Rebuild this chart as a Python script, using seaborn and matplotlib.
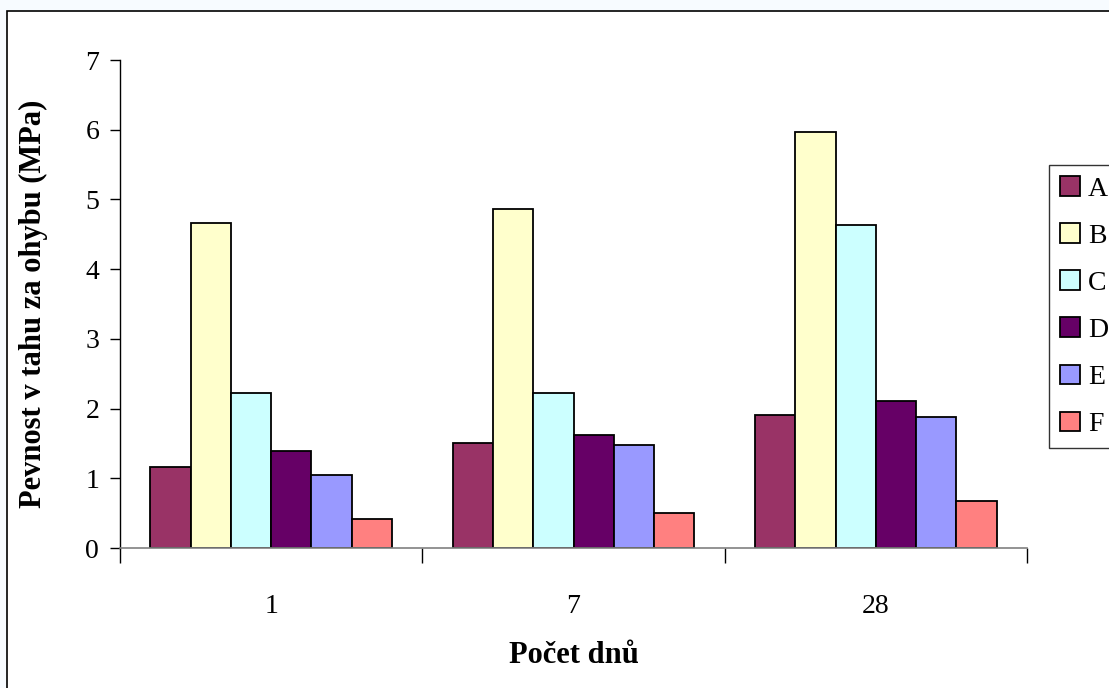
import matplotlib
matplotlib.use("Agg")
import matplotlib.pyplot as plt
from matplotlib.patches import Rectangle, Patch
import seaborn as sns
import pandas as pd

# Flexural tensile strength after 1, 7 and 28 days for mixtures A-F
days = ["1", "7", "28"]
mixtures = ["A", "B", "C", "D", "E", "F"]
values_A = [1.16, 1.51, 1.91]
values_B = [4.66, 4.86, 5.97]
values_C = [2.22, 2.22, 4.63]
values_D = [1.39, 1.62, 2.11]
values_E = [1.05, 1.48, 1.88]
values_F = [0.42, 0.50, 0.67]
yticks = [0, 1, 2, 3, 4, 5, 6, 7]

colors = ["#993366", "#FFFFCC", "#CCFFFF", "#660066", "#9999FF", "#FF8080"]

series = [values_A, values_B, values_C, values_D, values_E, values_F]
df = pd.DataFrame(
    [(d, m, v) for m, vals in zip(mixtures, series) for d, v in zip(days, vals)],
    columns=["den", "směs", "pevnost"],
)

sns.set_style("white")
plt.rcParams["font.family"] = ["Liberation Serif", "DejaVu Serif"]
plt.rcParams.update({"text.color": "black", "axes.labelcolor": "black",
                     "xtick.color": "black", "ytick.color": "black"})

W, H = 1109, 688
fig = plt.figure(figsize=(W / 100, H / 100), dpi=100, facecolor="#f7fbff")

# white chart area with a thin black frame
fig.patches.append(Rectangle((7 / W, -0.05), 1.2, 1 - 11 / H + 0.05,
                             transform=fig.transFigure, facecolor="white",
                             edgecolor="black", linewidth=1.2, zorder=-10))

ax = fig.add_axes([120 / W, 1 - 548 / H, (1027 - 120) / W, (548 - 60) / H])
ax.set_facecolor("none")

sns.barplot(data=df, x="den", y="pevnost", hue="směs", order=days,
            hue_order=mixtures, palette=colors, width=0.8, gap=0,
            edgecolor="black", linewidth=1.3, saturation=1, ax=ax,
            legend=False, errorbar=None)

ax.set_ylim(0, 7)
ax.set_yticks(yticks)
ax.set_xlim(-0.5, len(days) - 0.5)

# category labels centred, tick marks on category boundaries
ax.set_xticks(range(len(days)))
ax.set_xticklabels(days)
ax.set_xticks([i - 0.5 for i in range(len(days) + 1)], minor=True)
ax.tick_params(axis="x", which="major", length=0, pad=33, labelsize=20,
               labelcolor="black")
ax.tick_params(axis="x", which="minor", length=11, width=1, color="black",
               direction="out", bottom=True)
ax.tick_params(axis="y", length=7, width=1, color="black", direction="out",
               labelsize=20, pad=8, left=True, labelcolor="black")

for side in ["top", "right"]:
    ax.spines[side].set_visible(False)
ax.spines["left"].set_color("black")
ax.spines["left"].set_linewidth(1)
ax.spines["bottom"].set_color("#808080")
ax.spines["bottom"].set_linewidth(1.2)

ax.set_xlabel("Počet dnů", fontsize=22, fontweight="bold", labelpad=16,
              color="black")
ax.set_ylabel("Pevnost v tahu za ohybu (MPa)", fontsize=22,
              fontweight="bold", labelpad=27, color="black")

handles = [Patch(facecolor=c, edgecolor="black", linewidth=1.3) for c in colors]
leg = fig.legend(handles, mixtures, loc="upper left",
                 bbox_to_anchor=(1049 / W, 1 - 165 / H), fontsize=20,
                 frameon=True, fancybox=False, edgecolor="black",
                 handlelength=0.7, handleheight=0.7, handletextpad=0.3,
                 labelspacing=0.78, borderpad=0.4, borderaxespad=0,
                 labelcolor="black")
leg.get_frame().set_linewidth(1)

fig.savefig("out.png", dpi=100)
